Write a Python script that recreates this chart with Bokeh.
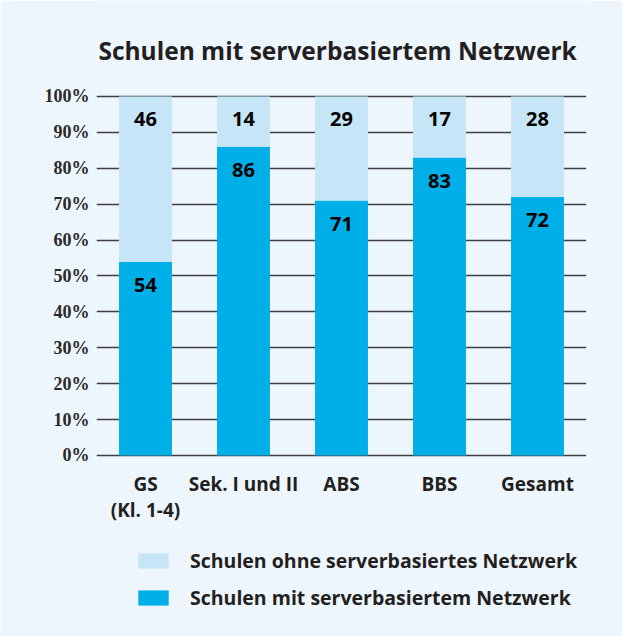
from bokeh.plotting import figure
from bokeh.models import FactorRange, Range1d, Label, Legend, LegendItem, ColumnDataSource, FixedTicker
from bokeh.embed import file_html
from bokeh.resources import INLINE

# ---- data ----
categories = ["GS\n(Kl. 1-4)", "Sek. I und II", "ABS", "BBS", "Gesamt"]
mit_netzwerk = [54, 86, 71, 83, 72]
ohne_netzwerk = [46, 14, 29, 17, 28]
series_names = ["Schulen mit serverbasiertem Netzwerk", "Schulen ohne serverbasiertes Netzwerk"]
y_ticks = [0, 10, 20, 30, 40, 50, 60, 70, 80, 90, 100]
y_tick_labels = ["0%", "10%", "20%", "30%", "40%", "50%", "60%", "70%", "80%", "90%", "100%"]
title_text = "Schulen mit serverbasiertem Netzwerk"

# ---- style ----
BG = "#eef6fd"
DARK = "#00aee8"
LIGHT = "#c6e5f6"
TXT = "#231f20"
SANS = "Open Sans"

src = ColumnDataSource(dict(
    cat=categories,
    mit=mit_netzwerk,
    ohne=ohne_netzwerk,
    mit_lbl=[str(v) for v in mit_netzwerk],
    ohne_lbl=[str(v) for v in ohne_netzwerk],
    top_all=[m + o for m, o in zip(mit_netzwerk, ohne_netzwerk)],
))

# frame spans the full height; the value axis keeps 3.59 px per percent
p = figure(
    x_range=FactorRange(factors=categories, range_padding=0),
    y_range=Range1d(-50.42, 126.74),
    width=622, height=636,
    output_backend="svg", toolbar_location=None,
    background_fill_color=BG, border_fill_color=BG,
    outline_line_color=None,
    min_border_left=96, min_border_right=36,
    min_border_top=0, min_border_bottom=0,
)

rends = p.vbar_stack(["mit", "ohne"], x="cat", width=0.54, source=src,
                     color=[DARK, LIGHT], line_color=None)

# value labels
p.text(x="cat", y="mit", text="mit_lbl", source=src, y_offset=23,
       text_align="center", text_baseline="middle",
       text_font={"value": SANS}, text_font_style="bold",
       text_font_size="20px", text_color="#000000")
p.text(x="cat", y="top_all", text="ohne_lbl", source=src, y_offset=23,
       text_align="center", text_baseline="middle",
       text_font={"value": SANS}, text_font_style="bold",
       text_font_size="20px", text_color="#000000")

# axes
p.yaxis.ticker = FixedTicker(ticks=y_ticks)
p.yaxis.major_label_overrides = {t: l for t, l in zip(y_ticks, y_tick_labels)}
p.yaxis.axis_line_color = None
p.yaxis.major_tick_line_color = None
p.yaxis.minor_tick_line_color = None
p.yaxis.major_tick_out = 0
p.yaxis.major_label_standoff = 7
p.yaxis.major_label_text_font = "Liberation Serif"
p.yaxis.major_label_text_font_style = "bold"
p.yaxis.major_label_text_font_size = "18px"
p.yaxis.major_label_text_color = "#2a2a2a"

p.xaxis.fixed_location = 0
p.xaxis.axis_line_color = None
p.xaxis.major_tick_line_color = None
p.xaxis.minor_tick_line_color = None
p.xaxis.major_tick_out = 0
p.xaxis.major_tick_in = 0
p.xaxis.major_label_standoff = 16
p.xaxis.major_label_text_font = SANS
p.xaxis.major_label_text_font_style = "bold"
p.xaxis.major_label_text_font_size = "19px"
p.xaxis.major_label_text_line_height = 1.0
p.xaxis.major_label_text_color = TXT

p.xgrid.grid_line_color = None
p.ygrid.grid_line_color = "#404040"
p.ygrid.grid_line_width = 1.3

# title
p.add_layout(Label(x=2.46, y=112.8, text=title_text, text_align="center",
                   text_baseline="middle", text_font=SANS, text_font_style="bold",
                   text_font_size="24.5px", text_color=TXT))

# legend
legend = Legend(
    items=[LegendItem(label=series_names[1], renderers=[rends[1]]),
           LegendItem(label=series_names[0], renderers=[rends[0]])],
    location=(38, 25), orientation="vertical",
    border_line_color=None, background_fill_alpha=0,
    padding=0, margin=0, spacing=10,
    glyph_width=38, glyph_height=19, label_height=19, label_standoff=18,
    label_text_font=SANS, label_text_font_style="bold",
    label_text_font_size="19.5px", label_text_color=TXT,
)
p.add_layout(legend, "center")

open("out.html", "w").write(file_html(p, INLINE))
